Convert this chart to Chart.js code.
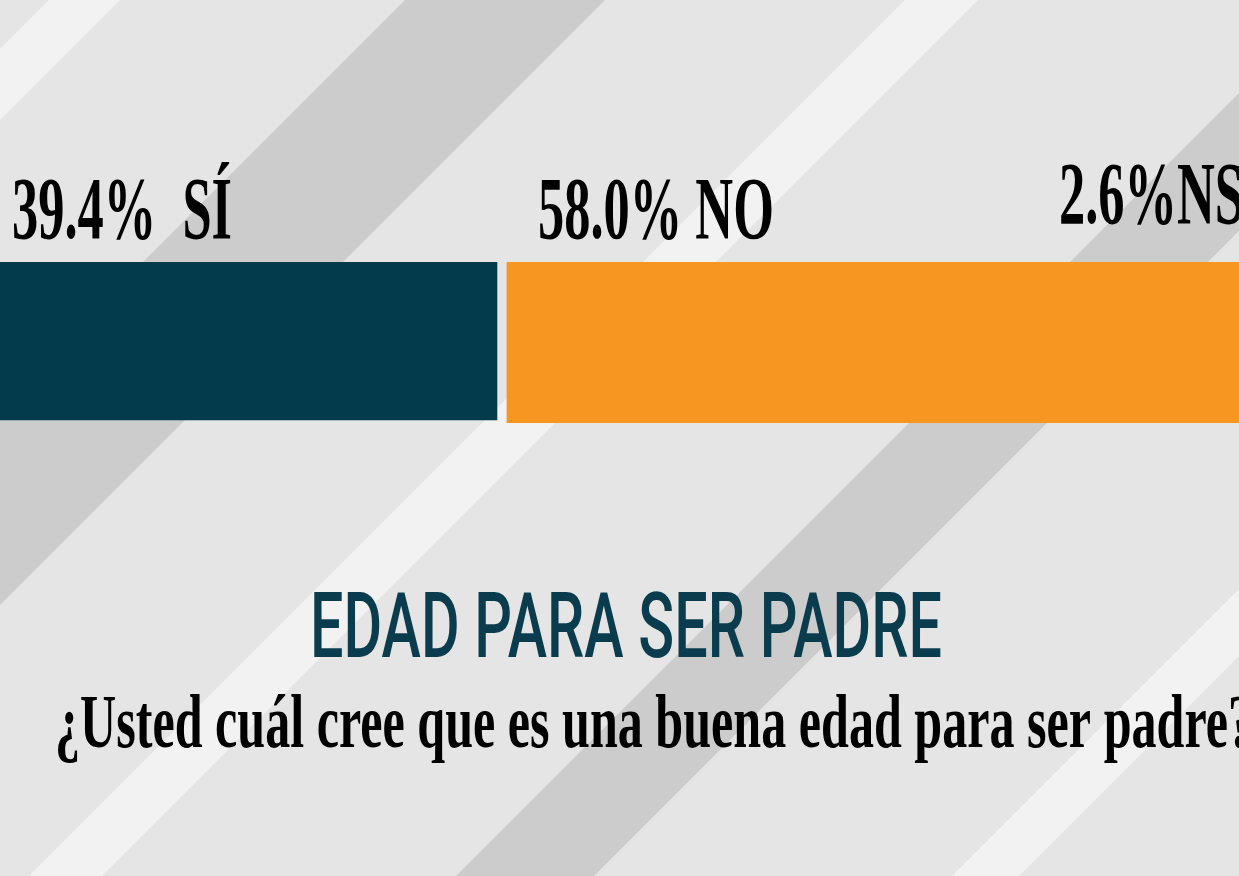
<!DOCTYPE html>
<html>
<head>
<meta charset="utf-8">
<script src="https://cdn.jsdelivr.net/npm/chart.js@4"></script>
<style>
  html, body { margin: 0; padding: 0; overflow: hidden; background: #e5e5e5; width: 1239px; height: 876px; }
  #wrap { position: absolute; left: 0; top: 0; width: 1274px; height: 876px; }
</style>
</head>
<body>
<div id="wrap"><canvas id="c" width="1274" height="876"></canvas></div>
<script>
// ---- data ----
const categories = ['SÍ', 'NO', 'NS'];
const values = [39.4, 58.0, 2.6];
const labelSeparators = ['  ', ' ', ''];
const colors = ['#033b4c', '#f79620', '#9aa3a8'];
const titleText = 'EDAD PARA SER PADRE';
const questionText = '¿Usted cuál cree que es una buena edad para ser padre?';

// ---- background stripes (decoration), x+y ranges ----
const stripes = [
  { c: [49, 120], color: '#f2f2f2' },
  { c: [405, 605], color: '#cccccc' },
  { c: [905, 978], color: '#f2f2f2' },
  { c: [1332, 1470], color: '#cccccc' },
  { c: [1828, 1895], color: '#f2f2f2' }
];

const bgPlugin = {
  id: 'bg',
  beforeDraw(chart) {
    const ctx = chart.ctx, W = chart.width, H = chart.height;
    ctx.save();
    ctx.fillStyle = '#e5e5e5';
    ctx.fillRect(0, 0, W, H);
    stripes.forEach(s => {
      ctx.beginPath();
      ctx.moveTo(s.c[0], 0);
      ctx.lineTo(s.c[1], 0);
      ctx.lineTo(s.c[1] - H, H);
      ctx.lineTo(s.c[0] - H, H);
      ctx.closePath();
      ctx.fillStyle = s.color;
      ctx.fill();
    });
    ctx.restore();
  }
};

function drawScaled(ctx, text, x, y, font, color, scaleX, align) {
  ctx.save();
  ctx.font = font;
  ctx.fillStyle = color;
  ctx.textBaseline = 'alphabetic';
  const w = ctx.measureText(text).width * scaleX;
  let sx = x;
  if (align === 'right') sx = x - w;
  if (align === 'center') sx = x - w / 2;
  ctx.translate(sx, y);
  ctx.scale(scaleX, 1);
  ctx.fillText(text, 0, 0);
  ctx.restore();
}

function fitScale(ctx, text, font, targetW) {
  ctx.save();
  ctx.font = font;
  const w = ctx.measureText(text).width;
  ctx.restore();
  return targetW / w;
}

const textPlugin = {
  id: 'texts',
  afterDraw(chart) {
    const ctx = chart.ctx;
    const labelFont = 'bold 88px "Liberation Serif"';
    const labels = categories.map((c, i) => values[i].toFixed(1) + '%' + labelSeparators[i] + c);
    const ls = fitScale(ctx, labels[0], labelFont, 220);
    const m0 = chart.getDatasetMeta(0).data[0];
    const m1 = chart.getDatasetMeta(1).data[0];
    const m2 = chart.getDatasetMeta(2).data[0];
    drawScaled(ctx, labels[0], m0.base + 12, 238, labelFont, '#000', ls, 'left');
    drawScaled(ctx, labels[1], m1.base + 36, 238, labelFont, '#000', ls, 'left');
    drawScaled(ctx, labels[2], m2.x - 30, 223, labelFont, '#000', ls, 'right');

    const titleFont = '500 90px Roboto';
    const ts = fitScale(ctx, titleText, titleFont, 632);
    drawScaled(ctx, titleText, 626, 657, titleFont, '#0a3c4e', ts, 'center');

    const qFont = 'bold 76px "Liberation Serif"';
    const qs = fitScale(ctx, questionText.slice(0, -1), qFont, 1173);
    drawScaled(ctx, questionText, 55, 747, qFont, '#000', qs, 'left');
  }
};

const datasets = categories.map((c, i) => ({
  label: c,
  data: [values[i]],
  backgroundColor: colors[i],
  borderColor: 'rgba(0,0,0,0)',
  borderSkipped: false,
  borderWidth: i === 0 ? { right: 5, bottom: 3, left: 0, top: 0 } : { left: 5, right: 0, top: 0, bottom: 0 },
  barThickness: 161
}));

new Chart(document.getElementById('c'), {
  type: 'bar',
  data: { labels: [''], datasets },
  options: {
    indexAxis: 'y',
    responsive: false,
    animation: false,
    layout: { padding: { left: 0, right: 0, top: 0, bottom: 191 } },
    plugins: { legend: { display: false }, tooltip: { enabled: false } },
    scales: {
      x: { stacked: true, min: 0, max: 100, display: false },
      y: { stacked: true, display: false }
    }
  },
  plugins: [bgPlugin, textPlugin]
});
</script>
</body>
</html>
